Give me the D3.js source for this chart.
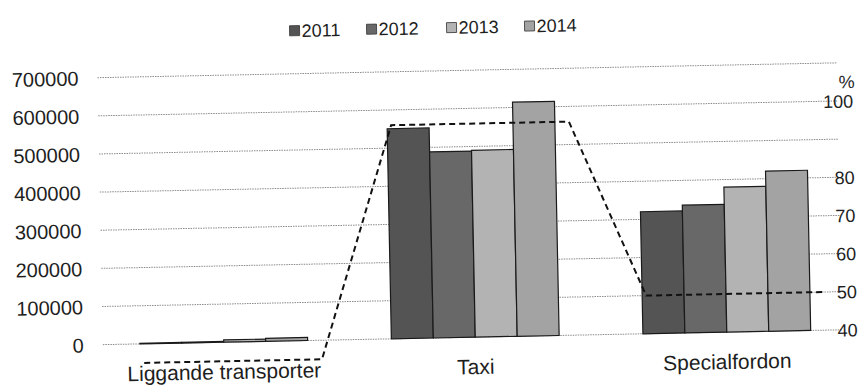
<!DOCTYPE html>
<html>
<head>
<meta charset="utf-8">
<script src="https://cdn.jsdelivr.net/npm/d3@7"></script>
<style>
  html, body { margin: 0; padding: 0; background: #fff; }
  svg { display: block; }
  text { font-family: "Liberation Sans", Arial, sans-serif; fill: #1e1e1e; }
</style>
</head>
<body>
<svg id="chart" width="864" height="385"></svg>
<script>
// Trips per vehicle type and year (bars, left axis)
const categories = ["Liggande transporter", "Taxi", "Specialfordon"];
const years = ["2011", "2012", "2013", "2014"];
const values2011 = [1500, 551000, 320000];
const values2012 = [2000, 488000, 335000];
const values2013 = [6000, 490000, 380000];
const values2014 = [8000, 614000, 420000];
// Share in percent (dashed line, right axis)
const percent = [35, 96, 50];

const leftTicks = [0, 100000, 200000, 300000, 400000, 500000, 600000, 700000];
const rightTicks = [40, 50, 60, 70, 80, 100];

const series = [values2011, values2012, values2013, values2014];
const fills = ["#545454", "#686868", "#b3b3b3", "#a3a3a3"];

const svg = d3.select("#chart");
const plot = { left: 95, right: 850, top: 71, bottom: 338 };

// The printed page sits slightly askew
const root = svg.append("g").attr("transform", "rotate(-1.15,432,200)");

const x = d3.scaleBand()
  .domain(categories)
  .range([plot.left, plot.right])
  .paddingInner(0.333)
  .paddingOuter(0.167);

const xYear = d3.scaleBand()
  .domain(years)
  .range([0, x.bandwidth()]);

const y = d3.scaleLinear()
  .domain([0, 700000])
  .range([plot.bottom, plot.top]);

// Right axis: 40 % at the baseline, 100 % on the 600000 gridline
const yR = d3.scaleLinear()
  .domain([40, 100])
  .range([y(0), y(600000)]);

// Dotted gridlines
root.append("g")
  .selectAll("line")
  .data(leftTicks)
  .join("line")
  .attr("x1", plot.left + 5)
  .attr("x2", plot.right - 10)
  .attr("y1", d => y(d))
  .attr("y2", d => y(d))
  .attr("stroke", "#8a8a8a")
  .attr("stroke-width", 1)
  .attr("stroke-dasharray", "1.5,1");

// Left axis labels
const leftAxis = d3.axisLeft(y)
  .tickValues(leftTicks)
  .tickFormat(d3.format("d"))
  .tickSize(0)
  .tickPadding(0);
const gL = root.append("g")
  .attr("transform", `translate(${81},0)`)
  .call(leftAxis);
gL.select(".domain").remove();
gL.selectAll("text")
  .style("font-size", "20px")
  .attr("dy", "0.35em")
  .style("fill", "#1e1e1e");

// Right axis labels
const rightAxis = d3.axisRight(yR)
  .tickValues(rightTicks)
  .tickFormat(d3.format("d"))
  .tickSize(0)
  .tickPadding(0);
const gR = root.append("g")
  .attr("transform", `translate(${855},0)`)
  .call(rightAxis);
gR.select(".domain").remove();
gR.selectAll("text")
  .attr("text-anchor", "end")
  .attr("x", 0)
  .attr("dy", "0.35em")
  .style("font-size", "18px")
  .style("fill", "#1e1e1e");
root.append("text")
  .attr("x", 857)
  .attr("y", yR(105))
  .attr("dy", "0.35em")
  .attr("text-anchor", "end")
  .style("font-size", "18px")
  .text("%");

// Bars
const groups = root.append("g")
  .selectAll("g")
  .data(categories)
  .join("g")
  .attr("transform", d => `translate(${x(d)},0)`);

groups.selectAll("rect")
  .data((c, i) => years.map((yr, k) => ({ yr, k, v: series[k][i] })))
  .join("rect")
  .attr("x", d => xYear(d.yr))
  .attr("width", xYear.bandwidth())
  .attr("y", d => y(d.v))
  .attr("height", d => y(0) - y(d.v))
  .attr("fill", d => fills[d.k])
  .attr("stroke", "#1a1a1a")
  .attr("stroke-width", 1.2);

// Dashed percentage line: a level segment across each group, joined between groups
const linePts = [];
categories.forEach((c, i) => {
  linePts.push([x(c) + 4, yR(percent[i])]);
  linePts.push([x(c) + x.bandwidth() + 14, yR(percent[i])]);
});
root.append("path")
  .attr("d", d3.line()(linePts))
  .attr("fill", "none")
  .attr("stroke", "#111")
  .attr("stroke-width", 2)
  .attr("stroke-dasharray", "6,4");

// Category labels
root.append("g")
  .selectAll("text")
  .data(categories)
  .join("text")
  .attr("x", d => x(d) + x.bandwidth() / 2)
  .attr("y", 375)
  .attr("text-anchor", "middle")
  .style("font-size", "21px")
  .text(d => d);

// Legend
const legendX = [293, 370, 450, 528];
const legend = root.append("g")
  .selectAll("g")
  .data(years)
  .join("g")
  .attr("transform", (d, i) => `translate(${legendX[i]},${28})`);
legend.append("rect")
  .attr("x", 0)
  .attr("y", -5)
  .attr("width", 10)
  .attr("height", 10)
  .attr("fill", (d, i) => fills[i])
  .attr("stroke", "#333")
  .attr("stroke-width", 0.8);
legend.append("text")
  .attr("x", 12)
  .attr("y", 0)
  .attr("dy", "0.35em")
  .style("font-size", "18px")
  .text(d => d);
</script>
</body>
</html>
